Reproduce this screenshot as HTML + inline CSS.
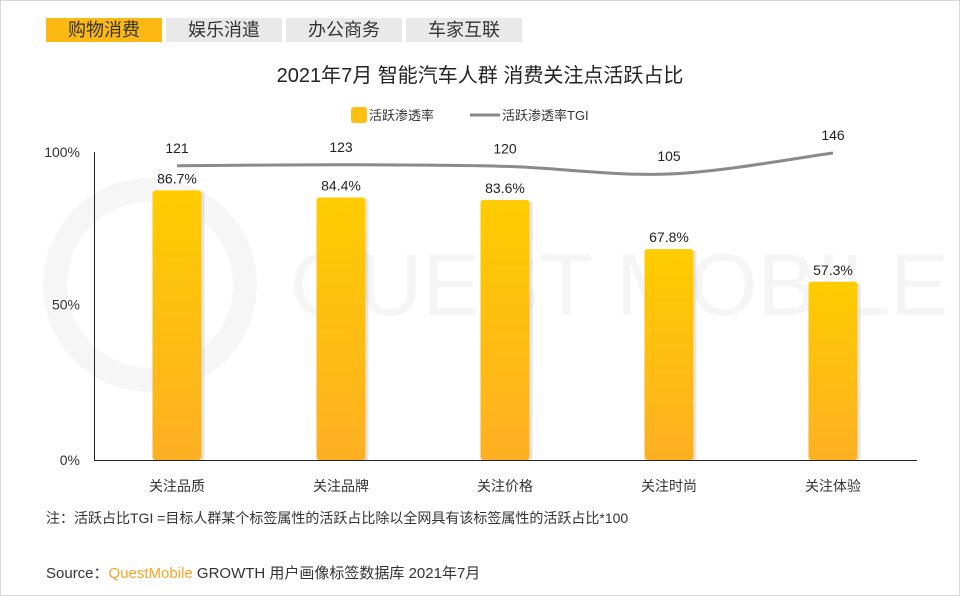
<!DOCTYPE html>
<html><head><meta charset="utf-8"><style>
body{margin:0;width:960px;height:596px;background:#fff;font-family:"Liberation Sans","Noto Sans CJK SC",sans-serif;overflow:hidden}
#frame{position:absolute;left:0;top:0;width:958px;height:594px;border:1px solid #d8d8d8}
.tab{position:absolute;top:18px;height:24px;width:116px;font-size:18px;line-height:24px;text-align:center;color:#333;background:#e9e9e9}
</style></head><body>
<div id="frame"></div>
<div class="tab" style="left:46px;background:#fdb913;width:116px">购物消费</div>
<div class="tab" style="left:166px">娱乐消遣</div>
<div class="tab" style="left:286px">办公商务</div>
<div class="tab" style="left:406px">车家互联</div>
<svg id="chart" width="960" height="596" style="position:absolute;left:0;top:0">
<defs><linearGradient id="bg" x1="0" y1="0" x2="0" y2="1"><stop offset="0" stop-color="#ffcc00"/><stop offset="1" stop-color="#fdb022"/></linearGradient></defs>
<g opacity="0.035">
<circle cx="150" cy="285" r="95" fill="none" stroke="#000" stroke-width="24"/>
<text x="290" y="315" font-size="88" fill="#000" font-family="Liberation Sans">QUEST MOBILE</text></g>
<text x="480" y="82" text-anchor="middle" font-size="20" fill="#222">2021年7月 智能汽车人群 消费关注点活跃占比</text>
<rect x="351" y="107" width="16" height="16" rx="3" fill="#fdbf10"/>
<text x="369" y="120" font-size="13" fill="#333">活跃渗透率</text>
<line x1="470" y1="115" x2="500" y2="115" stroke="#888" stroke-width="3"/>
<text x="502" y="120" font-size="13" fill="#333">活跃渗透率TGI</text>
<line x1="94.5" y1="152" x2="94.5" y2="460" stroke="#222"/>
<g id="yt"></g><g id="bars"></g><g id="xl"></g>
<line x1="94" y1="460.5" x2="917" y2="460.5" stroke="#222"/>
<path id="tgi" fill="none" stroke="#8a8a8a" stroke-width="3"/>
<g id="tl"></g>
<text x="46" y="523" font-size="14" fill="#333">注：活跃占比TGI =目标人群某个标签属性的活跃占比除以全网具有该标签属性的活跃占比*100</text>
<text x="46" y="578" font-size="15" fill="#333">Source：<tspan fill="#f5a623">QuestMobile</tspan> GROWTH 用户画像标签数据库 2021年7月</text>
</svg>
<script>
const categories=["关注品质","关注品牌","关注价格","关注时尚","关注体验"];
const rates=[86.7,84.4,83.6,67.8,57.3];
const tgi=[121,123,120,105,146];
const yTicks=[0,50,100];
const NS="http://www.w3.org/2000/svg";
const y0=460,ppu=3.11,x0=177,step=164,bw=49;
const xs=i=>x0+i*step, yr=v=>y0-v*ppu, yt=v=>174-(v-105)*0.512;
function mk(tag,attrs,parent,txt){const e=document.createElementNS(NS,tag);for(const k in attrs)e.setAttribute(k,attrs[k]);if(txt!==undefined)e.textContent=txt;document.getElementById(parent).appendChild(e);return e;}
yTicks.forEach(t=>{const e=mk("text",{x:80,y:yr(t)+5+(t===100?3:0),"text-anchor":"end","font-size":14,fill:"#333"},"yt",t+"%");

});
categories.forEach((c,i)=>{
const sh=mk("rect",{x:xs(i)-bw/2+3,y:yr(rates[i])+2,width:bw,height:y0-yr(rates[i])-2,fill:"#ccc",opacity:0.5},"bars");


const b=mk("rect",{x:xs(i)-bw/2,y:yr(rates[i]),width:bw,height:y0-yr(rates[i]),rx:3,fill:"url(#bg)"},"bars");


const v=mk("text",{x:xs(i),y:yr(rates[i])-7,"text-anchor":"middle","font-size":14,fill:"#222"},"bars",rates[i].toFixed(1)+"%");


const l=mk("text",{x:xs(i),y:491,"text-anchor":"middle","font-size":14,fill:"#333"},"xl",c);


const t=mk("text",{x:xs(i),y:yt(tgi[i])-13,"text-anchor":"middle","font-size":14,fill:"#222"},"tl",String(tgi[i]));


});
const P=tgi.map((v,i)=>[xs(i),yt(v)]);
let d="M"+P[0][0]+","+P[0][1];
for(let i=0;i<P.length-1;i++){const p0=P[Math.max(0,i-1)],p1=P[i],p2=P[i+1],p3=P[Math.min(P.length-1,i+2)];
d+=` C${p1[0]+(p2[0]-p0[0])/6},${p1[1]+(p2[1]-p0[1])/6} ${p2[0]-(p3[0]-p1[0])/6},${p2[1]-(p3[1]-p1[1])/6} ${p2[0]},${p2[1]}`;}
document.getElementById("tgi").setAttribute("d",d);
</script>
</body></html>
